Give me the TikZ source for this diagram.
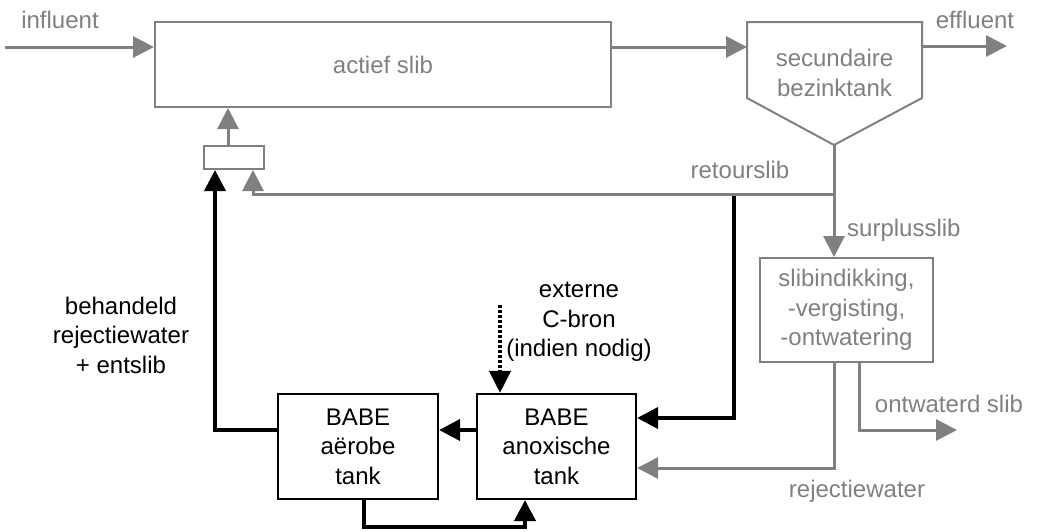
\documentclass[tikz,border=0pt]{standalone}
\usepackage{fontspec}
\setmainfont{Liberation Sans}
\usetikzlibrary{arrows.meta}
\definecolor{flowgray}{RGB}{128,128,128}
\tikzset{
  txt/.style={font=\fontsize{24}{29.5}\selectfont, align=center, inner sep=0pt},
  glabel/.style={txt, text=flowgray},
  blabel/.style={txt, text=black},
  gbox/.style={txt, draw=flowgray, line width=2pt, text=flowgray},
  bbox/.style={txt, draw=black, line width=2.2pt},
  gline/.style={draw=flowgray, line width=3pt},
  bline/.style={draw=black, line width=4pt},
  gflow/.style={gline, -{Triangle[length=21pt,width=21pt]}},
  bflow/.style={bline, -{Triangle[length=21pt,width=21pt]}},
  cflow/.style={draw=black, line width=4pt, dash pattern=on 3pt off 2pt, -{Triangle[length=22pt,width=21pt]}},
}
\begin{document}
\begin{tikzpicture}[x=1pt, y=-1pt]
\useasboundingbox (0,0) rectangle (1037,531);

% process units
\node[gbox, minimum width=456pt, minimum height=85pt] (actief) at (383,64.5) {actief slib};
\node[gbox, minimum width=60pt, minimum height=23pt] (mix) at (234,157.5) {};
\node[gbox, minimum width=173pt, minimum height=104pt] (slib) at (846.5,310)
  {slibindikking,\\-vergisting,\\-ontwatering};
\node[bbox, minimum width=160pt, minimum height=105pt] (aer) at (358,446.5) {BABE\\aërobe\\tank};
\node[bbox, minimum width=159pt, minimum height=105pt] (anox) at (556.5,446.5) {BABE\\anoxische\\tank};

% secondary clarifier (pentagon with pointed bottom)
\coordinate (secTL) at (747,22);
\coordinate (secTR) at (922,22);
\coordinate (secBR) at (922,98);
\coordinate (secB)  at (834,145);
\coordinate (secBL) at (747,98);
\draw[draw=flowgray, line width=2pt, line join=miter]
  (secTL) -- (secTR) -- (secBR) -- (secB) -- (secBL) -- cycle;
\node[glabel] (sec) at (834.5,73) {secundaire\\bezinktank};

% labels
\node[glabel] (linf) at (60,20) {influent};
\node[glabel] (leff) at (975,20) {effluent};
\node[glabel] (lret) at (740,170) {retourslib};
\node[glabel, anchor=west] (lsur) at (847,230) {surplusslib};
\node[glabel] (lont) at (949,404) {ontwaterd slib};
\node[glabel] (lrej) at (857,491) {rejectiewater};
\node[blabel] (lext) at (579,322) {externe\\C-bron\\(indien nodig)};
\node[blabel] (lbeh) at (121,335) {behandeld\\rejectiewater\\+ entslib};

% helper points
\coordinate (inf)   at (5,47);
\coordinate (secL)  at (747,47);
\coordinate (secR)  at (922,46);
\coordinate (eff)   at (1007,46);
\coordinate (J)     at (834,194);
\coordinate (K)     at (734,194);
\coordinate (Kb)    at (734,418);
\coordinate (ret)   at (253,194);
\coordinate (mixup) at (228,146);
\coordinate (row)   at (215,430);
\coordinate (loopL) at (364,527);
\coordinate (loopR) at (525,527);
\coordinate (cin)   at (500,305);
\coordinate (rej)   at (834,468);
\coordinate (ont)   at (859,430);
\coordinate (ontE)  at (957,430);

% BABE connections (black)
\draw[bflow] (K) -- (Kb) -- (anox.east |- Kb);
\draw[bflow] (anox.west |- row) -- (aer.east |- row);
\draw[bflow] (aer.west |- row) -- (row) -- (row |- mix.south);
\draw[bflow] (loopL |- aer.south) -- (loopL) -- (loopR) -- (loopR |- anox.south);
\draw[cflow] (cin) -- (cin |- anox.north);

% main line (gray)
\draw[gflow] (inf) -- (actief.west |- inf);
\draw[gflow] (actief.east |- secL) -- (secL);
\draw[gflow] (secR) -- (eff);
\draw[gflow] (secB) -- (secB |- slib.north);
\draw[gflow] (J) -- (ret) -- (ret |- mix.south);
\draw[gflow] (mixup) -- (mixup |- actief.south);
\draw[gflow] (rej |- slib.south) -- (rej) -- (anox.east |- rej);
\draw[gflow] (ont |- slib.south) -- (ont) -- (ontE);
\end{tikzpicture}
\end{document}
